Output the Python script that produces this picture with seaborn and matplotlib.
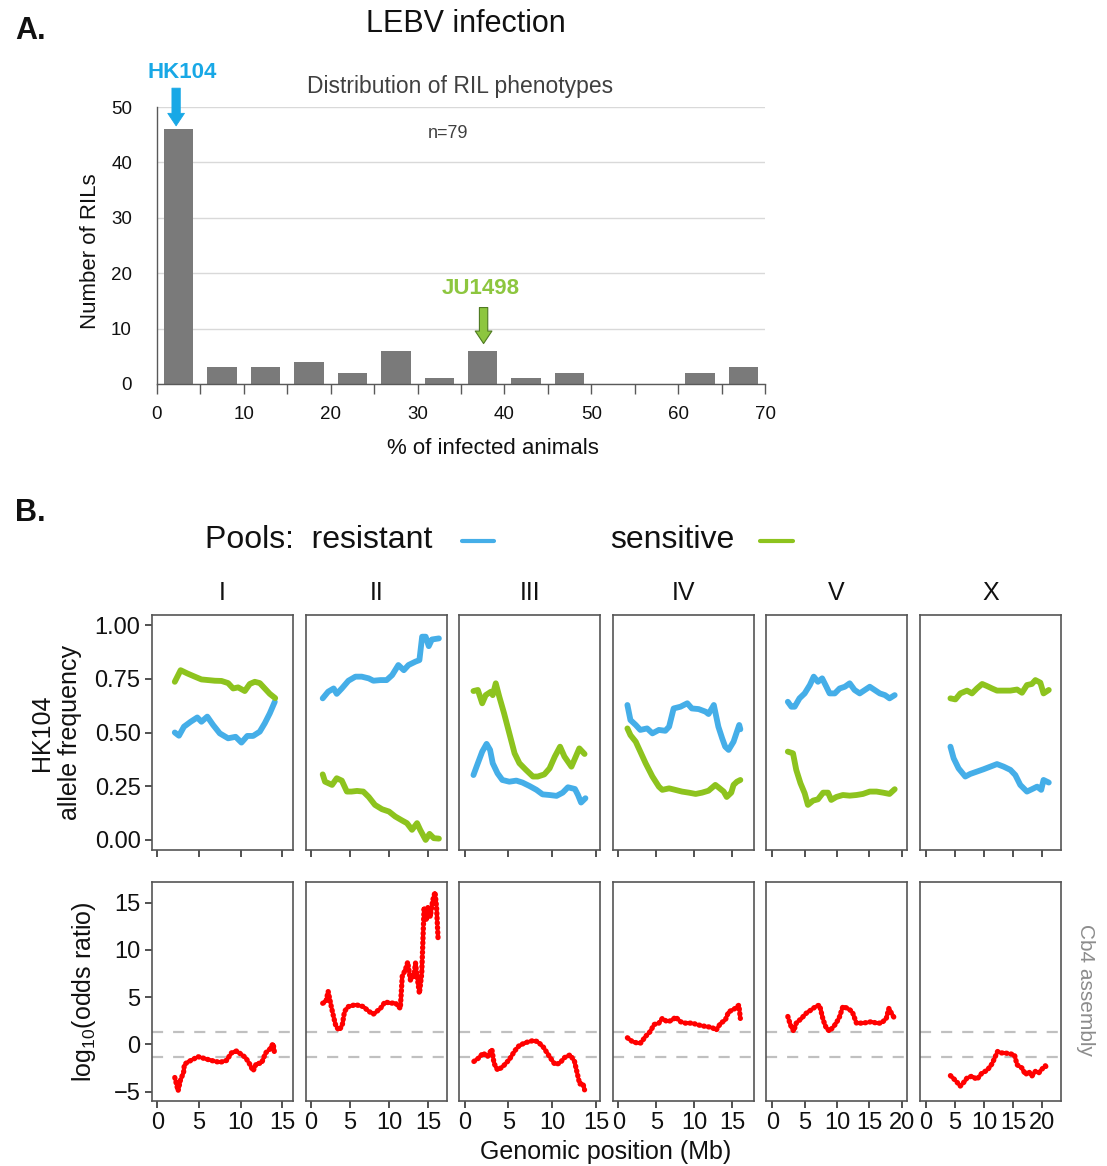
import numpy as np
import pandas as pd
import matplotlib
matplotlib.use("Agg")
import matplotlib.pyplot as plt
from matplotlib.lines import Line2D
import seaborn as sns

# ---------------- Panel A data ----------------
BIN_EDGES = [0, 5, 10, 15, 20, 25, 30, 35, 40, 45, 50, 55, 60, 65, 70]
BIN_COUNTS = [46, 3, 3, 4, 2, 6, 1, 6, 1, 2, 0, 0, 2, 3]

# ---------------- Panel B data ----------------
CHROMS = ["I", "II", "III", "IV", "V", "X"]

I_res_pos = [2.1, 2.6, 3.2, 4.0, 4.8, 5.3, 6.0, 6.7, 7.5, 8.5, 9.4, 10.1, 10.8, 11.5, 12.3, 12.9, 13.5, 14.1]
I_res_frq = [0.50, 0.485, 0.527, 0.55, 0.57, 0.55, 0.574, 0.535, 0.496, 0.473, 0.48, 0.453, 0.484, 0.484, 0.504, 0.543, 0.589, 0.643]
I_sen_pos = [2.1, 2.8, 3.6, 4.5, 5.3, 6.1, 6.9, 7.7, 8.5, 9.1, 9.7, 10.5, 11.1, 11.7, 12.3, 12.9, 13.5, 14.15]
I_sen_frq = [0.736, 0.79, 0.775, 0.76, 0.747, 0.744, 0.741, 0.74, 0.73, 0.705, 0.71, 0.693, 0.726, 0.736, 0.73, 0.705, 0.68, 0.66]
I_or_pos = [2.1, 2.5, 2.8, 3.15, 3.25, 3.8, 4.9, 5.7, 6.5, 7.5, 8.3, 8.9, 9.5, 10.0, 10.6, 11.1, 11.5, 11.9, 12.5, 13.0, 13.5, 13.9, 14.1]
I_or_val = [-3.5, -4.9, -3.7, -3.0, -2.1, -1.8, -1.3, -1.5, -1.7, -1.9, -1.7, -0.9, -0.7, -1.0, -1.4, -2.1, -2.8, -2.0, -2.0, -0.9, -0.5, 0.1, -1.1]

II_res_pos = [1.5, 2.2, 2.9, 3.3, 3.95, 4.8, 5.7, 6.5, 7.4, 8.0, 8.9, 9.7, 10.4, 11.2, 11.9, 12.5, 13.4, 13.9, 14.25, 14.7, 15.1, 15.5, 16.4]
II_res_frq = [0.659, 0.69, 0.705, 0.68, 0.705, 0.741, 0.76, 0.76, 0.752, 0.741, 0.744, 0.744, 0.767, 0.814, 0.79, 0.814, 0.83, 0.837, 0.946, 0.946, 0.902, 0.933, 0.938]
II_sen_pos = [1.5, 1.8, 2.7, 3.3, 3.95, 4.6, 5.2, 5.9, 6.7, 7.4, 8.2, 9.1, 10.0, 10.8, 11.7, 12.3, 12.95, 13.6, 14.0, 14.7, 15.2, 15.75, 16.4]
II_sen_frq = [0.305, 0.271, 0.256, 0.287, 0.276, 0.225, 0.225, 0.228, 0.225, 0.2, 0.163, 0.143, 0.132, 0.109, 0.09, 0.078, 0.047, 0.078, 0.047, 0.0, 0.028, 0.008, 0.006]
II_or_pos = [1.5, 1.9, 2.2, 2.6, 2.9, 3.2, 3.6, 4.0, 4.3, 4.8, 5.7, 6.7, 7.4, 8.0, 8.9, 9.5, 10.2, 10.8, 11.45, 11.7, 12.1, 12.4, 12.75, 13.2, 13.4, 13.6, 13.9, 14.2, 14.5, 14.8, 15.0, 15.3, 15.6, 15.9, 16.1, 16.3]
II_or_val = [4.35, 4.5, 5.6, 4.0, 2.9, 1.9, 1.5, 2.0, 3.5, 4.0, 4.2, 4.0, 3.5, 3.2, 3.8, 4.5, 4.35, 4.4, 3.8, 7.2, 7.9, 8.7, 6.8, 7.3, 8.6, 7.2, 5.4, 7.5, 14.5, 13.1, 14.5, 13.5, 15.2, 16.1, 14.5, 11.0]

III_res_pos = [1.0, 1.5, 2.0, 2.5, 2.9, 3.2, 3.75, 4.3, 5.1, 5.9, 6.6, 7.4, 8.2, 8.9, 9.7, 10.5, 11.2, 11.8, 12.6, 12.95, 13.3, 13.8]
III_res_frq = [0.302, 0.357, 0.411, 0.447, 0.419, 0.357, 0.31, 0.279, 0.271, 0.276, 0.267, 0.251, 0.233, 0.212, 0.209, 0.205, 0.22, 0.245, 0.237, 0.209, 0.174, 0.194]
III_sen_pos = [1.0, 1.5, 2.0, 2.4, 3.0, 3.2, 3.55, 3.95, 4.5, 5.1, 5.7, 6.25, 7.0, 7.8, 8.35, 9.1, 9.7, 10.3, 10.9, 11.4, 12.2, 12.7, 13.1, 13.7]
III_sen_frq = [0.693, 0.698, 0.636, 0.674, 0.69, 0.674, 0.729, 0.667, 0.589, 0.496, 0.403, 0.357, 0.326, 0.295, 0.295, 0.305, 0.333, 0.388, 0.434, 0.388, 0.341, 0.388, 0.426, 0.40]
III_or_pos = [1.05, 1.65, 2.1, 2.6, 3.1, 3.35, 3.75, 4.3, 5.1, 5.7, 6.25, 7.0, 7.8, 8.35, 9.0, 9.7, 10.3, 10.85, 11.4, 12.05, 12.55, 12.85, 13.15, 13.5, 13.7]
III_or_val = [-1.8, -1.4, -0.9, -1.3, -0.5, -2.0, -2.7, -2.4, -1.6, -0.7, -0.1, 0.2, 0.4, 0.3, -0.3, -1.3, -2.1, -2.0, -1.4, -1.1, -1.8, -3.0, -4.2, -4.1, -4.8]

IV_res_pos = [1.2, 1.6, 2.3, 2.9, 3.8, 4.5, 5.35, 6.2, 6.7, 7.3, 8.2, 9.1, 9.7, 10.6, 11.5, 11.9, 12.6, 13.2, 13.7, 14.1, 14.55, 15.2, 15.65, 15.95, 16.1]
IV_res_frq = [0.628, 0.558, 0.535, 0.512, 0.519, 0.496, 0.512, 0.508, 0.527, 0.612, 0.62, 0.636, 0.612, 0.609, 0.597, 0.586, 0.628, 0.527, 0.473, 0.434, 0.419, 0.457, 0.504, 0.535, 0.515]
IV_sen_pos = [1.2, 1.6, 2.3, 2.9, 3.6, 4.5, 5.35, 5.8, 6.7, 7.5, 8.4, 9.3, 10.2, 11.05, 11.9, 12.8, 13.2, 13.9, 14.3, 14.9, 15.2, 15.65, 16.1]
IV_sen_frq = [0.519, 0.488, 0.457, 0.411, 0.357, 0.295, 0.248, 0.233, 0.24, 0.233, 0.225, 0.22, 0.214, 0.22, 0.229, 0.256, 0.245, 0.225, 0.20, 0.22, 0.256, 0.271, 0.279]
IV_or_pos = [1.2, 1.85, 2.5, 2.95, 3.6, 4.25, 4.7, 5.35, 5.8, 6.45, 7.1, 7.55, 8.2, 8.85, 9.75, 10.6, 11.5, 12.35, 12.9, 13.5, 14.1, 14.55, 15.1, 15.4, 15.9, 16.1]
IV_or_val = [0.7, 0.3, 0.15, 0.15, 0.85, 1.4, 2.1, 2.25, 2.75, 2.4, 2.55, 2.9, 2.4, 2.25, 2.25, 2.05, 1.9, 1.8, 1.5, 2.25, 2.55, 3.45, 3.65, 3.8, 4.15, 2.75]

V_res_pos = [2.4, 2.95, 3.45, 4.2, 5.0, 5.8, 6.4, 7.05, 7.7, 8.35, 8.85, 9.65, 10.4, 11.2, 11.95, 12.7, 13.5, 14.3, 15.05, 15.8, 16.6, 17.4, 18.1, 18.9]
V_res_frq = [0.643, 0.62, 0.62, 0.659, 0.682, 0.721, 0.76, 0.736, 0.752, 0.713, 0.682, 0.682, 0.705, 0.713, 0.729, 0.698, 0.682, 0.698, 0.713, 0.698, 0.682, 0.674, 0.659, 0.674]
V_sen_pos = [2.4, 3.2, 3.7, 4.35, 5.0, 5.5, 6.3, 7.05, 7.85, 8.6, 9.1, 9.9, 10.9, 11.95, 13.0, 14.0, 15.05, 16.1, 17.1, 18.1, 18.9]
V_sen_frq = [0.411, 0.403, 0.326, 0.264, 0.217, 0.163, 0.183, 0.189, 0.22, 0.22, 0.186, 0.20, 0.209, 0.206, 0.209, 0.214, 0.225, 0.225, 0.22, 0.214, 0.236]
V_or_pos = [2.4, 2.8, 3.3, 3.7, 4.5, 5.25, 6.0, 6.8, 7.3, 7.85, 8.35, 8.85, 9.65, 10.3, 10.9, 11.7, 12.35, 13.0, 13.75, 14.5, 15.3, 16.1, 16.85, 17.6, 18.0, 18.55, 18.9]
V_or_val = [2.95, 2.05, 1.4, 2.25, 2.75, 3.3, 3.65, 4.05, 4.15, 2.6, 1.7, 1.4, 2.05, 2.75, 4.0, 3.8, 3.45, 2.25, 2.25, 2.3, 2.4, 2.25, 2.25, 2.75, 3.8, 3.1, 2.75]

X_res_pos = [4.2, 4.75, 5.6, 6.75, 7.6, 8.75, 9.9, 11.05, 12.2, 13.35, 14.5, 15.35, 16.2, 17.35, 18.2, 19.1, 19.8, 20.2, 21.1]
X_res_frq = [0.434, 0.38, 0.333, 0.295, 0.307, 0.318, 0.329, 0.341, 0.353, 0.341, 0.326, 0.302, 0.256, 0.225, 0.236, 0.248, 0.233, 0.279, 0.267]
X_sen_pos = [4.2, 5.05, 5.9, 7.05, 7.9, 8.75, 9.65, 10.5, 11.35, 12.2, 13.35, 14.5, 15.65, 16.5, 17.35, 18.2, 18.8, 19.65, 20.2, 21.1]
X_sen_frq = [0.659, 0.654, 0.682, 0.695, 0.682, 0.705, 0.726, 0.716, 0.705, 0.695, 0.695, 0.695, 0.70, 0.685, 0.721, 0.726, 0.744, 0.732, 0.682, 0.698]
X_or_pos = [4.2, 5.05, 5.9, 6.5, 7.05, 7.9, 8.75, 9.65, 10.5, 11.35, 12.3, 12.8, 13.5, 14.5, 15.2, 15.65, 16.5, 17.1, 17.65, 18.2, 18.8, 19.4, 19.95, 20.5, 20.9]
X_or_val = [-3.3, -3.8, -4.4, -4.0, -3.55, -3.35, -3.7, -3.0, -2.75, -2.05, -0.75, -0.9, -0.9, -1.0, -1.1, -2.15, -2.5, -3.2, -2.85, -3.35, -2.85, -3.0, -2.6, -2.25, -2.6]

THRESH = 1.3  # significance lines at +/- log10(20)

DATA = {
    "I": (I_res_pos, I_res_frq, I_sen_pos, I_sen_frq, I_or_pos, I_or_val),
    "II": (II_res_pos, II_res_frq, II_sen_pos, II_sen_frq, II_or_pos, II_or_val),
    "III": (III_res_pos, III_res_frq, III_sen_pos, III_sen_frq, III_or_pos, III_or_val),
    "IV": (IV_res_pos, IV_res_frq, IV_sen_pos, IV_sen_frq, IV_or_pos, IV_or_val),
    "V": (V_res_pos, V_res_frq, V_sen_pos, V_sen_frq, V_or_pos, V_or_val),
    "X": (X_res_pos, X_res_frq, X_sen_pos, X_sen_frq, X_or_pos, X_or_val),
}

# ---------------- style ----------------
sns.set_theme(style="white")
plt.rcParams["font.family"] = ["Liberation Sans", "DejaVu Sans"]
plt.rcParams["mathtext.fontset"] = "custom"
plt.rcParams["mathtext.rm"] = "Liberation Sans"
plt.rcParams["mathtext.it"] = "Liberation Sans:italic"

BLUE = "#45AEE8"
GREEN = "#8DC31E"
RED = "#FF0000"
ARROW_BLUE = "#18A8E6"
ARROW_GREEN = "#8DC63F"
TXT = "#111111"

W, H = 1107, 1166
fig = plt.figure(figsize=(W / 100, H / 100), dpi=100)


def fx(px):
    return px / W


def fy(py):
    return 1 - py / H


# ================= Panel A =================
axA = fig.add_axes([fx(157), fy(384), (765 - 157) / W, (384 - 107) / H])
centers = [(a + b) / 2 for a, b in zip(BIN_EDGES[:-1], BIN_EDGES[1:])]
dfA = pd.DataFrame({"pct": centers, "n": BIN_COUNTS})
sns.histplot(data=dfA, x="pct", weights="n", bins=BIN_EDGES, shrink=0.68,
             color="#7A7A7A", edgecolor="none", alpha=1, ax=axA)
axA.set_xlim(0, 70)
axA.set_ylim(0, 50)
axA.set_yticks(range(0, 51, 10))
axA.set_xticks(range(0, 71, 10))
axA.set_xticks(range(5, 71, 10), minor=True)
axA.yaxis.grid(True, color="#D9D9D9", lw=1)
axA.set_axisbelow(True)
for s in ["top", "right"]:
    axA.spines[s].set_visible(False)
for s in ["left", "bottom"]:
    axA.spines[s].set_color("#595959")
    axA.spines[s].set_linewidth(1)
axA.tick_params(axis="x", which="both", bottom=True, direction="out", length=7,
                color="#595959", width=1, labelsize=13.5, pad=9, labelcolor=TXT)
axA.tick_params(axis="y", left=False, labelsize=13.5, pad=12, labelcolor=TXT)
axA.set_xlabel("")
axA.set_ylabel("")

fig.text(fx(15), fy(31), "A.", fontsize=22, fontweight="bold", ha="left", va="center", color=TXT)
fig.text(fx(466), fy(24), "LEBV infection", fontsize=22, ha="center", va="center", color=TXT)
fig.text(fx(460), fy(86), "Distribution of RIL phenotypes", fontsize=16.5,
         ha="center", va="center", color="#404040")
fig.text(fx(448), fy(133), "n=79", fontsize=13, ha="center", va="center", color="#404040")
fig.text(fx(90), fy(251), "Number of RILs", fontsize=16, rotation=90, ha="center", va="center", color=TXT)
fig.text(fx(493), fy(448), "% of infected animals", fontsize=16, ha="center", va="center", color=TXT)

fig.text(fx(182), fy(72), "HK104", fontsize=16, fontweight="bold", color=ARROW_BLUE,
         ha="center", va="center")
fig.text(fx(481), fy(289), "JU1498", fontsize=16, fontweight="bold", color=ARROW_GREEN,
         ha="center", va="center")
arrow_kw = dict(arrowstyle="simple,head_length=0.75,head_width=1.0,tail_width=0.5",
                mutation_scale=12, shrinkA=0, shrinkB=0)
axA.annotate("", xy=(2.2, 46.6), xytext=(2.2, 53.4), annotation_clip=False,
             arrowprops=dict(fc=ARROW_BLUE, ec=ARROW_BLUE, lw=0.6, **arrow_kw))
axA.annotate("", xy=(37.6, 7.3), xytext=(37.6, 13.8), annotation_clip=False,
             arrowprops=dict(fc=ARROW_GREEN, ec="#4E7A20", lw=0.8, **arrow_kw))

# ================= Panel B =================
fig.text(fx(15), fy(513), "B.", fontsize=22, fontweight="bold", ha="left", va="center", color=TXT)
fig.text(fx(205), fy(540), "Pools:  resistant", fontsize=23, ha="left", va="center", color=TXT)
fig.text(fx(610), fy(540), "sensitive", fontsize=23, ha="left", va="center", color=TXT)
fig.add_artist(Line2D([fx(462), fx(494)], [fy(541), fy(541)], color=BLUE, lw=3,
                      transform=fig.transFigure))
fig.add_artist(Line2D([fx(760), fx(793)], [fy(541), fy(541)], color=GREEN, lw=3,
                      transform=fig.transFigure))

col_left = [151.7, 305.7, 459.3, 612.7, 766.0, 920.0]
col_w = 141
xlims = {"I": (-0.67, 16.25), "II": (-0.68, 17.4), "III": (-0.62, 15.5),
         "IV": (-0.74, 17.86), "V": (-0.97, 20.8), "X": (-1.03, 23.2)}
xt = {"I": [0, 5, 10, 15], "II": [0, 5, 10, 15], "III": [0, 5, 10, 15],
      "IV": [0, 5, 10, 15], "V": [0, 5, 10, 15, 20], "X": [0, 5, 10, 15, 20]}

FRAME = "#555555"


def frame(ax):
    for s in ax.spines.values():
        s.set_visible(True)
        s.set_color(FRAME)
        s.set_linewidth(1.2)


for i, ch in enumerate(CHROMS):
    rp, rf, sp, sf, op, ov = DATA[ch]
    L = col_left[i]

    # ---- allele frequency row
    axT = fig.add_axes([fx(L), fy(850), col_w / W, (850 - 615) / H])
    dfT = pd.concat([
        pd.DataFrame({"pos": rp, "freq": rf, "pool": "resistant"}),
        pd.DataFrame({"pos": sp, "freq": sf, "pool": "sensitive"}),
    ], ignore_index=True)
    sns.lineplot(data=dfT, x="pos", y="freq", hue="pool", units="pool", estimator=None,
                 palette={"resistant": BLUE, "sensitive": GREEN}, lw=4.2,
                 legend=False, ax=axT, solid_capstyle="round", solid_joinstyle="round")
    axT.set_xlim(*xlims[ch])
    axT.set_ylim(-0.047, 1.047)
    axT.set_xticks(xt[ch])
    axT.set_yticks([0, 0.25, 0.5, 0.75, 1.0])
    frame(axT)
    axT.tick_params(axis="x", bottom=True, length=5, width=1.2, color="#333333",
                    labelbottom=False)
    if i == 0:
        axT.tick_params(axis="y", left=True, length=5, width=1.2, color="#333333",
                        labelsize=17, pad=3, labelcolor=TXT)
        axT.set_yticklabels(["0.00", "0.25", "0.50", "0.75", "1.00"])
    else:
        axT.tick_params(axis="y", left=False, labelleft=False)
    axT.set_xlabel("")
    axT.set_ylabel("")
    axT.set_title(ch, fontsize=18, pad=11, color=TXT)

    # ---- odds ratio row
    axB = fig.add_axes([fx(L), fy(1100.7), col_w / W, (1100.7 - 881.7) / H])
    for t in (THRESH, -THRESH):
        axB.axhline(t, color="#C0C0C0", lw=1.6, dashes=(5, 4.5), zorder=1)
    dfB = pd.DataFrame({"pos": op, "lor": ov})
    n_before = len(axB.lines)
    sns.lineplot(data=dfB, x="pos", y="lor", estimator=None, color=RED, lw=3.8,
                 ax=axB, zorder=3)
    for ln in axB.lines[n_before:]:
        ln.set_linestyle((0, (0.15, 0.75)))
        ln.set_dash_capstyle("round")
    axB.set_xlim(*xlims[ch])
    axB.set_ylim(-5.95, 17.2)
    axB.set_xticks(xt[ch])
    axB.set_xticklabels([str(v) for v in xt[ch]])
    axB.set_yticks([-5, 0, 5, 10, 15])
    frame(axB)
    axB.tick_params(axis="x", bottom=True, length=5, width=1.2, color="#333333",
                    labelsize=17, pad=3, labelcolor=TXT)
    if i == 0:
        axB.tick_params(axis="y", left=True, length=5, width=1.2, color="#333333",
                        labelsize=17, pad=3, labelcolor=TXT)
    else:
        axB.tick_params(axis="y", left=False, labelleft=False)
    axB.set_xlabel("")
    axB.set_ylabel("")

fig.text(fx(56), fy(733), "HK104\nallele frequency", fontsize=18, rotation=90,
         ha="center", va="center", multialignment="center", color=TXT)
fig.text(fx(84), fy(992), r"$\mathrm{log}_{10}$(odds ratio)", fontsize=18, rotation=90,
         ha="center", va="center", color=TXT)
fig.text(fx(1085), fy(990), "Cb4 assembly", fontsize=15, rotation=270, color="#8C8C8C",
         ha="center", va="center")
fig.text(fx(606), fy(1152), "Genomic position (Mb)", fontsize=18, ha="center", va="center",
         color=TXT)

fig.savefig("out.png", dpi=100)
